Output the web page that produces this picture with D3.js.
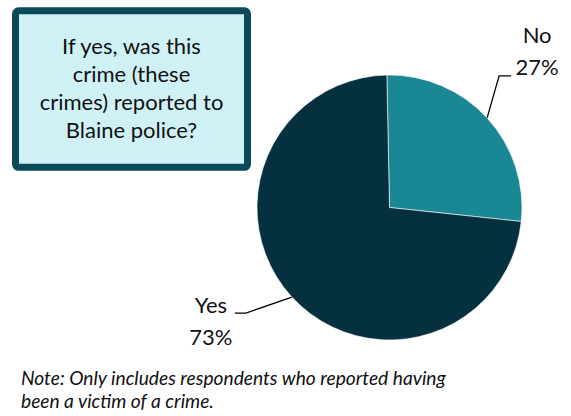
<!DOCTYPE html>
<html>
<head>
<meta charset="utf-8">
<script src="https://cdn.jsdelivr.net/npm/d3@7"></script>
<style>
  html, body { margin: 0; padding: 0; background: #ffffff; }
  svg { display: block; }
  text { font-family: Lato, "Liberation Sans", sans-serif; fill: #111; }
</style>
</head>
<body>
<svg id="chart" width="571" height="416"></svg>
<script>
// Survey answers and their shares (percent)
const categories = ["No", "Yes"];
const shares = [27, 73];
const questionLines = ["If yes, was this", "crime (these", "crimes) reported to", "Blaine police?"];
const noteLines = ["Note: Only includes respondents who reported having", "been a victim of a crime."];

const svg = d3.select("#chart");

// Question callout box
const box = { x: 15.5, y: 10.8, w: 232, h: 156.5 };
svg.append("rect")
  .attr("x", box.x).attr("y", box.y)
  .attr("width", box.w).attr("height", box.h)
  .attr("rx", 3)
  .attr("fill", "#cff1f5")
  .attr("stroke", "#0b4a5b")
  .attr("stroke-width", 7);

svg.append("g").selectAll("text")
  .data(questionLines)
  .join("text")
  .attr("x", box.x + box.w / 2)
  .attr("y", (d, i) => 54 + i * 28)
  .attr("text-anchor", "middle")
  .style("font-size", "22px")
  .text(d => d);

// Pie
const cx = 389.5, cy = 207.5, r = 132.5;
const color = d3.scaleOrdinal().domain(categories).range(["#1a8795", "#043040"]);
const offset = -0.02;
const pie = d3.pie().sort(null).value(d => d.v)
  .startAngle(offset).endAngle(2 * Math.PI + offset);
const data = pie(categories.map((c, i) => ({ c, v: shares[i] })));
const arc = d3.arc().innerRadius(0).outerRadius(r);

const g = svg.append("g").attr("transform", `translate(${cx},${cy})`);
g.selectAll("path")
  .data(data)
  .join("path")
  .attr("d", arc)
  .attr("fill", d => color(d.data.c))
  .attr("stroke", "#ffffff")
  .attr("stroke-width", 0.6);

// Leader lines and labels
const labelLayout = {
  No:  { elbow: [12, -42], run: 12, text: [38, -33], gap: 32 },
  Yes: { elbow: [-46, 16], run: -11, text: [-35, 0], gap: 32 }
};

data.forEach(d => {
  const mid = (d.startAngle + d.endAngle) / 2;
  const ex = Math.sin(mid) * r, ey = -Math.cos(mid) * r;
  const L = labelLayout[d.data.c];
  const bx = ex + L.elbow[0], by = ey + L.elbow[1];
  g.append("polyline")
    .attr("points", [[ex, ey], [bx, by], [bx + L.run, by]].map(p => p.join(",")).join(" "))
    .attr("fill", "none")
    .attr("stroke", "#000")
    .attr("stroke-width", 1.3);
  const pct = Math.round((d.endAngle - d.startAngle) / (2 * Math.PI) * 100);
  const t = g.append("text")
    .attr("text-anchor", "middle")
    .style("font-size", "22px");
  const tx = bx + L.text[0];
  const ty = by + L.text[1];
  t.append("tspan").attr("x", tx).attr("y", ty).text(d.data.c);
  t.append("tspan").attr("x", tx).attr("y", ty + L.gap).text(pct + "%");
});

// Footnote
svg.append("g").selectAll("text")
  .data(noteLines)
  .join("text")
  .attr("x", 21)
  .attr("y", (d, i) => 385 + i * 23)
  .style("font-size", "19.2px")
  .style("font-style", "italic")
  .text(d => d);
</script>
</body>
</html>
